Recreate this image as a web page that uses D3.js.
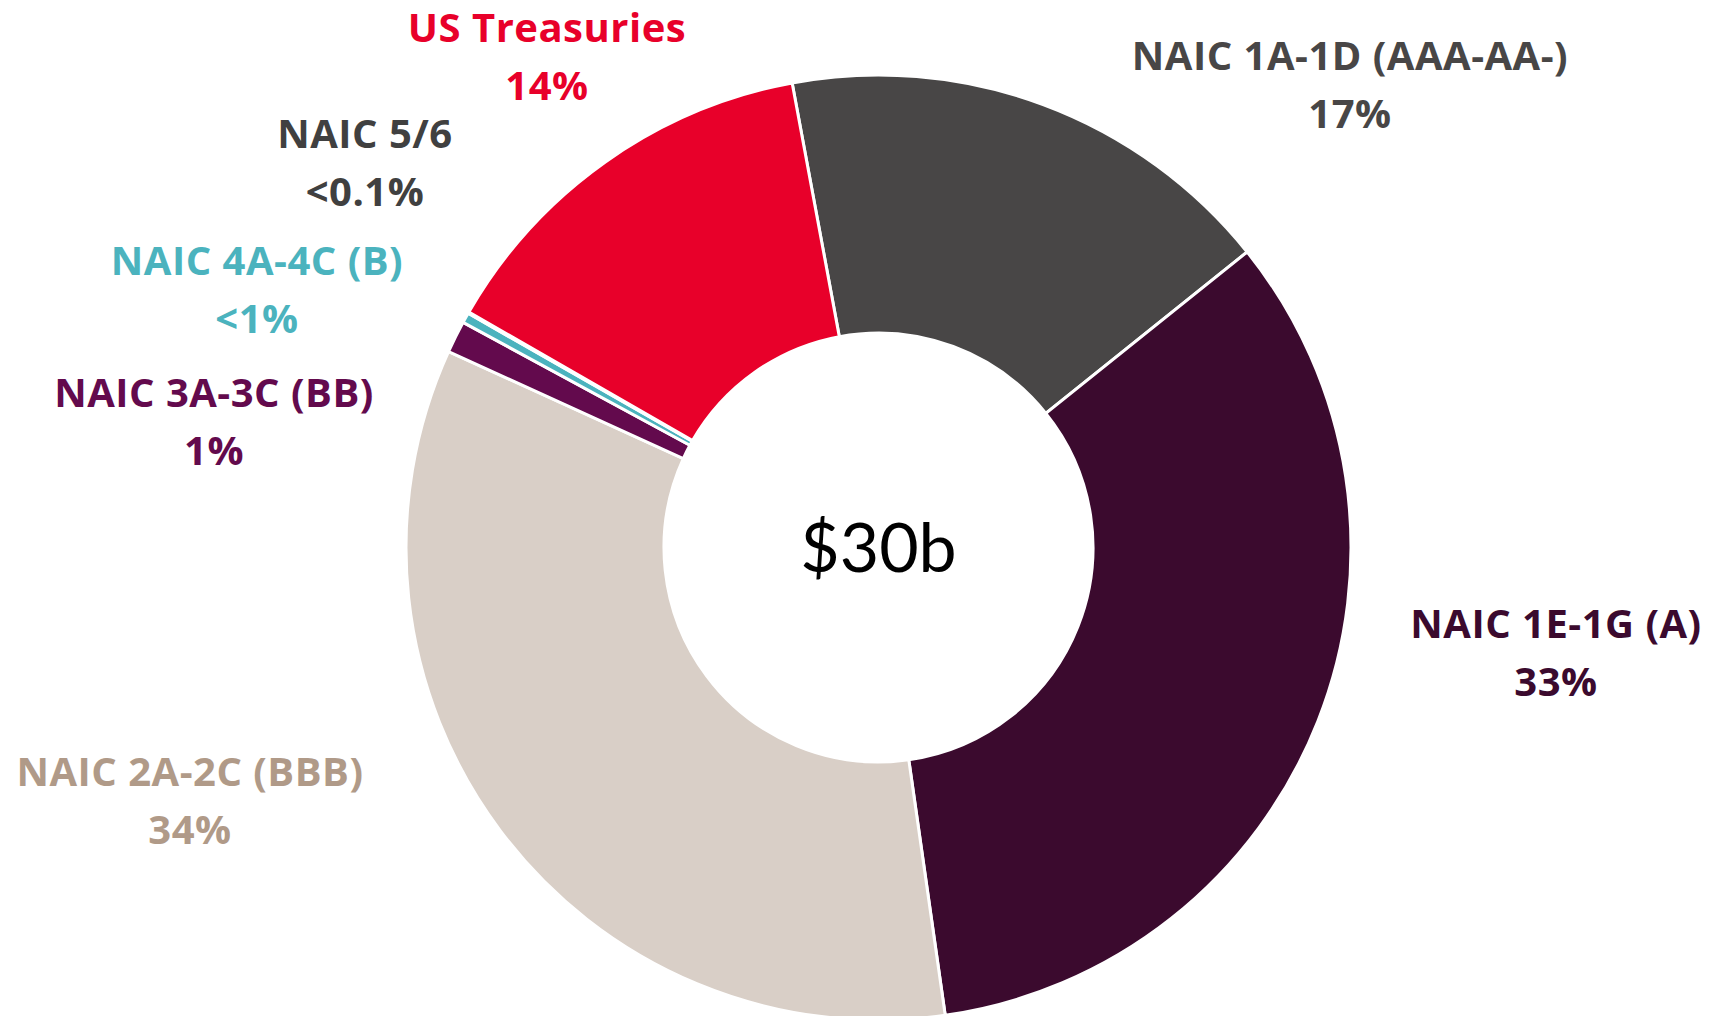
<!DOCTYPE html>
<html lang="en">
<head>
    <meta charset="UTF-8">
    <title>Portfolio by NAIC rating</title>
    <script src="https://d3js.org/d3.v7.min.js"></script>
    <style>
        body {
            margin: 0;
            background-color: #fff;
        }
        .slice-label {
            font-family: "Open Sans", Lato, sans-serif;
            font-weight: bold;
            font-size: 40px;
            letter-spacing: 0.5px;
        }
        .total {
            font-family: Lato, "Open Sans", sans-serif;
            font-size: 68px;
        }
    </style>
</head>
<body>
    <div id="chart"></div>
    <script>
        // slices, clockwise from the top-right one
        const categories = ["NAIC 1A-1D (AAA-AA-)", "NAIC 1E-1G (A)", "NAIC 2A-2C (BBB)", "NAIC 3A-3C (BB)", "NAIC 4A-4C (B)", "NAIC 5/6", "US Treasuries"];
        const shares = [17.17, 33.5, 34.06, 1.1, 0.35, 0.05, 13.77];
        const pctLabels = ["17%", "33%", "34%", "1%", "<1%", "<0.1%", "14%"];
        const sliceColors = ["#484646", "#3B0A2E", "#D9CFC7", "#630A4D", "#4BB3BE", "#404040", "#E8002A"];
        const textColors = ["#484646", "#3B0A2E", "#B09A88", "#630A4D", "#4BB3BE", "#404040", "#E8002A"];
        const total = "$30b";

        // where each label sits (x centre, baseline of first line)
        const labelPos = [[1350, 70], [1556, 638], [190, 786], [214, 407], [257, 275], [365, 148], [547, 42]];

        const width = 1711, height = 1016;
        const cx = 878.5, cy = 547.5;
        const outerR = 472.5, innerR = 214.5;
        const start = -10.53 * Math.PI / 180;

        const svg = d3.select("#chart")
            .append("svg")
            .attr("width", width)
            .attr("height", height);

        const pie = d3.pie()
            .sort(null)
            .value(d => d)
            .startAngle(start)
            .endAngle(start + 2 * Math.PI);

        const arc = d3.arc()
            .innerRadius(innerR)
            .outerRadius(outerR);

        const g = svg.append("g")
            .attr("transform", `translate(${cx}, ${cy})`);

        g.selectAll("path")
            .data(pie(shares))
            .enter()
            .append("path")
            .attr("d", arc)
            .attr("fill", (d, i) => sliceColors[i])
            .attr("stroke", "#fff")
            .attr("stroke-width", 3);

        g.append("text")
            .attr("class", "total")
            .attr("text-anchor", "middle")
            .attr("y", 24)
            .text(total);

        categories.forEach((c, i) => {
            const t = svg.append("text")
                .attr("class", "slice-label")
                .attr("text-anchor", "middle")
                .attr("fill", textColors[i])
                .attr("x", labelPos[i][0])
                .attr("y", labelPos[i][1]);
            t.append("tspan").text(c);
            t.append("tspan")
                .attr("x", labelPos[i][0])
                .attr("dy", 58)
                .text(pctLabels[i]);
        });
    </script>
</body>
</html>
